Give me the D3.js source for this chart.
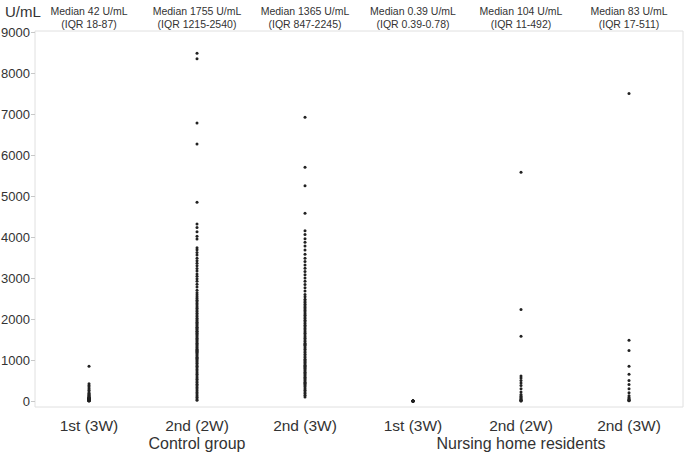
<!DOCTYPE html>
<html><head><meta charset="utf-8">
<script src="https://cdn.jsdelivr.net/npm/d3@7"></script>
<style>body{margin:0;background:#fff}svg{display:block}text{font-family:"Liberation Sans",Arial,sans-serif}</style>
</head><body><svg id="c" width="685" height="454"></svg>
<script>
const categories = ["1st (3W)","2nd (2W)","2nd (3W)","1st (3W)","2nd (2W)","2nd (3W)"];
const groups = [{name:"Control group", from:0, to:2},{name:"Nursing home residents", from:3, to:5}];
const medianLabels = ["Median 42 U/mL","Median 1755 U/mL","Median 1365 U/mL","Median 0.39 U/mL","Median 104 U/mL","Median 83 U/mL"];
const iqrLabels = ["(IQR 18-87)","(IQR 1215-2540)","(IQR 847-2245)","(IQR 0.39-0.78)","(IQR 11-492)","(IQR 17-511)"];
const yTicks = [0,1000,2000,3000,4000,5000,6000,7000,8000,9000];

const ctrl1 = [3,6,8,10,12,14,16,18,18,20,22,25,28,30,33,36,40,42,45,48,52,56,60,65,70,76,82,87,95,105,120,140,165,190,220,260,300,340,380,420,850];
const ctrl2a = [8480,8350,6780,6270,4850,4320,4230,4130,4020,3950,3740,3690,3620,3560,3480,3420,3360,3300,3230,3170,3100,3040,2980,2920,2850,2780,2700,2640,2590,2540,2500,2460,2420,2380,2340,2300,2260,2220,2180,2140,2100,2060,2020,1980,1950,1920,1890,1860,1830,1800,1780,1755,1730,1700,1680,1650,1620,1590,1560,1530,1500,1470,1440,1410,1380,1350,1320,1290,1260,1240,1215,1190,1160,1130,1100,1070,1040,1010,980,950,920,880,850,810,770,730,690,650,610,570,530,490,450,410,370,330,290,250,210,170,130,90,50,20];
const ctrl3 = [6920,5700,5250,4580,4150,4060,3960,3870,3780,3680,3580,3480,3400,3320,3240,3160,3080,3000,2920,2840,2760,2680,2600,2540,2480,2440,2400,2360,2320,2280,2245,2210,2170,2130,2090,2050,2010,1970,1930,1890,1850,1810,1770,1730,1690,1650,1610,1570,1530,1490,1450,1410,1380,1365,1340,1300,1260,1220,1180,1140,1100,1060,1020,990,960,930,900,870,847,820,790,760,730,700,670,640,610,580,550,520,490,460,430,400,370,340,300,260,220,180,140,100];
const nh1 = [0.39,0.39,0.39,0.39,0.5,0.6,0.78,1,2,5];
const nh2 = [5580,2230,1580,610,560,500,440,380,300,220,160,120,104,80,55,35,20,11,6,3];
const nh3 = [7500,1480,1230,850,650,500,400,300,200,130,83,55,35,17,10,5];
const series = [ctrl1, ctrl2a, ctrl3, nh1, nh2, nh3];

const svg = d3.select("#c");
const mL = 35, mR = 683, mT = 31, mB = 407;
const x = d3.scaleBand().domain(d3.range(categories.length)).range([mL, mR]);
const y = d3.scaleLinear().domain([0, 9000]).range([401, 32]);
const txt = "#333";
const lineC = "#e0e0e0";

// frame
svg.append("line").attr("x1",mL).attr("x2",mR).attr("y1",mT).attr("y2",mT).attr("stroke",lineC);
svg.append("line").attr("x1",mR).attr("x2",mR).attr("y1",mT).attr("y2",mB).attr("stroke",lineC);
svg.append("line").attr("x1",mL).attr("x2",mR).attr("y1",mB).attr("y2",mB).attr("stroke",lineC);

// y axis
const yAxis = svg.append("g").attr("transform",`translate(${mL},0)`)
  .call(d3.axisLeft(y).tickValues(yTicks).tickSize(4).tickFormat(d3.format("d")));
yAxis.select(".domain").attr("d",`M0,${mT}V${mB}`).attr("stroke",lineC);
yAxis.selectAll(".tick line").attr("stroke","#c8c8c8");
yAxis.selectAll(".tick text").attr("fill",txt).attr("font-size",13).attr("x",-5).attr("font-family","Liberation Sans, Arial, sans-serif");

svg.append("text").attr("x",5).attr("y",17).attr("fill",txt).attr("font-size",15).text("U/mL");

// x labels
const xAxis = svg.append("g").attr("transform",`translate(0,${mB})`)
  .call(d3.axisBottom(x).tickSize(0).tickFormat(i => categories[i]));
xAxis.select(".domain").remove();
xAxis.selectAll(".tick text").attr("fill",txt).attr("font-size",15.5).attr("dy","0").attr("y",24).attr("font-family","Liberation Sans, Arial, sans-serif");

groups.forEach(g => {
  const cx = (x(g.from) + x(g.to) + x.bandwidth()) / 2;
  svg.append("text").attr("x",cx).attr("y",449).attr("text-anchor","middle").attr("fill",txt).attr("font-size",16).text(g.name);
});

// headers
categories.forEach((c,i) => {
  const cx = x(i) + x.bandwidth()/2;
  svg.append("text").attr("x",cx).attr("y",15).attr("text-anchor","middle").attr("fill",txt).attr("font-size",10.5).text(medianLabels[i]);
  svg.append("text").attr("x",cx).attr("y",28).attr("text-anchor","middle").attr("fill",txt).attr("font-size",10.5).text(iqrLabels[i]);
});

// dots
series.forEach((vals,i) => {
  const cx = x(i) + x.bandwidth()/2;
  svg.append("g").selectAll("circle").data(vals).join("circle")
    .attr("cx",cx).attr("cy",d => y(d)).attr("r",1.5).attr("fill","#222");
});
</script></body></html>
